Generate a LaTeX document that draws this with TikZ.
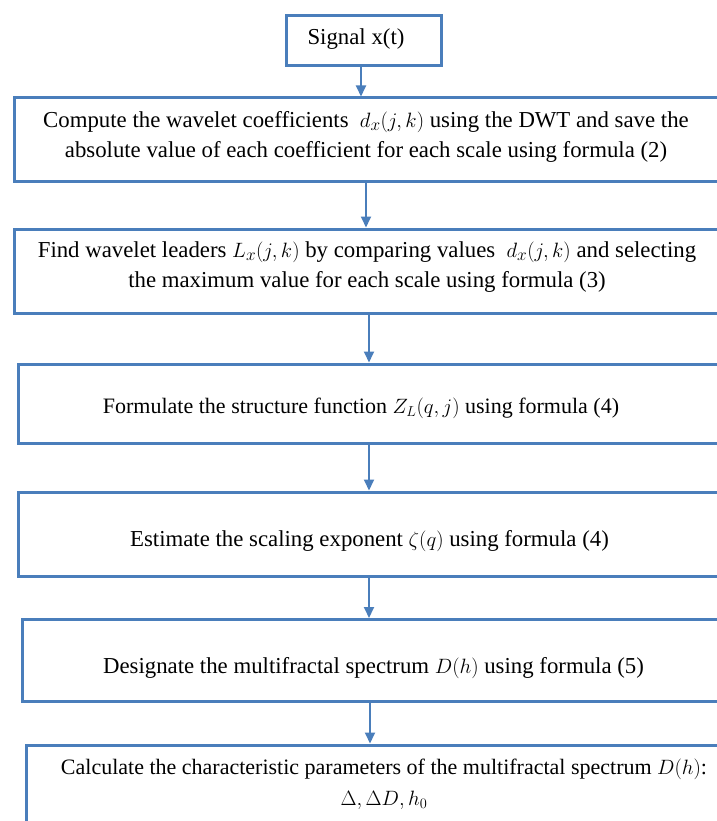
\documentclass[tikz,border=0pt]{standalone}
\usepackage{fontspec}
\setmainfont{Liberation Serif}
\usetikzlibrary{arrows.meta}
\definecolor{flowblue}{HTML}{4A7EBB}
\begin{document}
\begin{tikzpicture}[x=1pt,y=-1pt,
  stepbox/.style={draw=flowblue,line width=3pt,rectangle,inner sep=0pt,anchor=north west},
  txt/.style={font=\fontsize{22.8}{30}\selectfont,align=center,inner sep=0pt,text=black},
  txtsmall/.style={txt,font=\fontsize{22}{31}\selectfont},
  arr/.style={draw=flowblue,line width=1.8pt,-{Triangle[length=11pt,width=10pt]}}]
\useasboundingbox[fill=white] (0,0) rectangle (716,821);
% boxes
\node[stepbox,minimum width=155pt,minimum height=50pt] (b1) at (285,14) {};
\node[stepbox,minimum width=720pt,minimum height=84pt] (b2) at (12.5,96.5) {};
\node[stepbox,minimum width=720pt,minimum height=84pt] (b3) at (12.5,227.5) {};
\node[stepbox,minimum width=720pt,minimum height=79pt] (b4) at (16.5,362.5) {};
\node[stepbox,minimum width=720pt,minimum height=84pt] (b5) at (16.5,490.5) {};
\node[stepbox,minimum width=720pt,minimum height=82pt] (b6) at (20.5,618) {};
\node[stepbox,minimum width=720pt,minimum height=120pt] (b7) at (24.5,743.5) {};
% texts
\node[txt] (t1) at (356,39) {Signal x(t)};
\node[txt] (t2) at (366,137) {Compute the wavelet coefficients \ $d_x(j,k)$ using the DWT and save the\\absolute value of each coefficient for each scale using formula (2)};
\node[txt] (t3) at (367,267) {Find wavelet leaders $L_x(j,k)$ by comparing values \ $d_x(j,k)$ and selecting\\the maximum value for each scale using formula (3)};
\node[txtsmall] (t4) at (361,408) {Formulate the structure function $Z_L(q,j)$ using formula (4)};
\node[txt] (t5) at (369.5,541) {Estimate the scaling exponent $\zeta(q)$ using formula (4)};
\node[txt] (t6) at (373.5,668) {Designate the multifractal spectrum $D(h)$ using formula (5)};
\node[txtsmall] (t7) at (384,784) {Calculate the characteristic parameters of the multifractal spectrum $D(h)$:\\$\Delta,\Delta D,h_0$};
% arrow columns
\coordinate (c1) at (361,0);
\coordinate (c2) at (366,0);
\coordinate (c3) at (369,0);
\coordinate (c4) at (369,0);
\coordinate (c5) at (369,0);
\coordinate (c6) at (370,0);
\draw[arr] (b1.south -| c1) -- (b2.north -| c1);
\draw[arr] (b2.south -| c2) -- (b3.north -| c2);
\draw[arr] (b3.south -| c3) -- (b4.north -| c3);
\draw[arr] (b4.south -| c4) -- (b5.north -| c4);
\draw[arr] (b5.south -| c5) -- (b6.north -| c5);
\draw[arr] (b6.south -| c6) -- (b7.north -| c6);
\end{tikzpicture}
\end{document}
